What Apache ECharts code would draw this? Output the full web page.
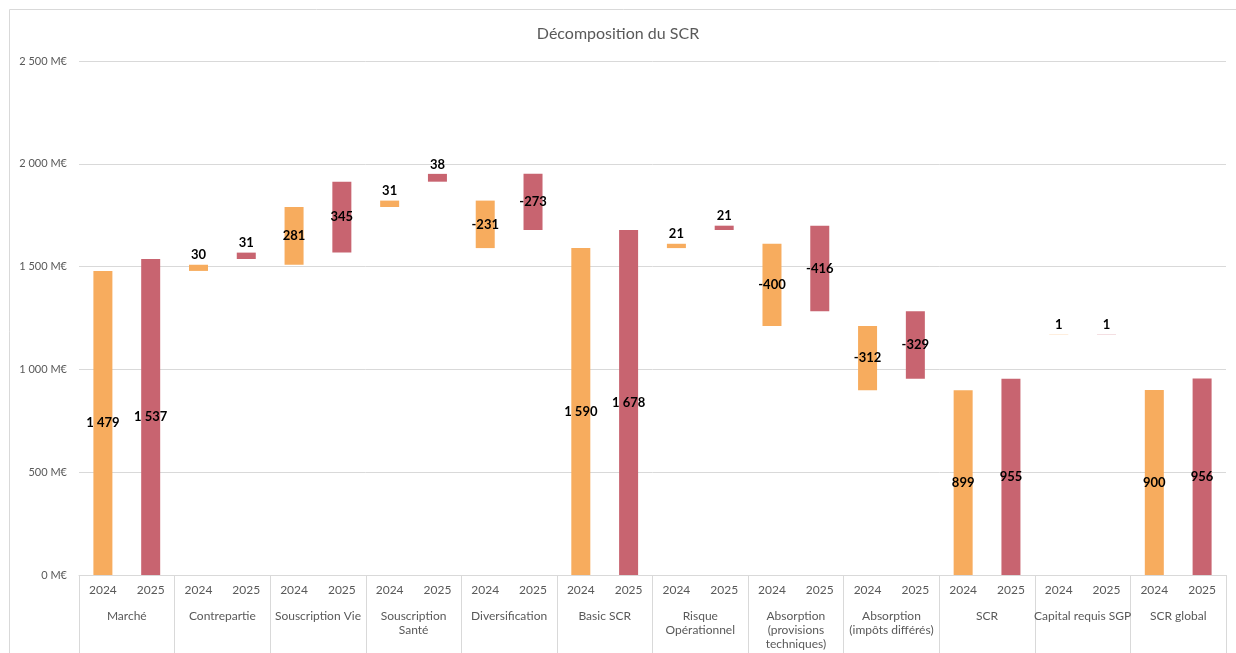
<!DOCTYPE html>
<html>
<head>
<meta charset="utf-8">
<title>Décomposition du SCR</title>
<script src="https://cdn.jsdelivr.net/npm/echarts@6/dist/echarts.min.js"></script>
<style>
  html, body { margin: 0; padding: 0; background: #fff; }
  #chart { width: 1236px; height: 653px; }
</style>
</head>
<body>
<div id="chart"></div>
<script>
// groupes de l'axe et années
const groups = ['Marché', 'Contrepartie', 'Souscription Vie', 'Souscription\nSanté', 'Diversification',
  'Basic SCR', 'Risque\nOpérationnel', 'Absorption\n(provisions\ntechniques)', 'Absorption\n(impôts différés)',
  'SCR', 'Capital requis SGP', 'SCR global'];
const years = ['2024', '2025'];

// montants en M€ (signés)
const values2024 = [1479, 30, 281, 31, -231, 1590, 21, -400, -312, 899, 1, 900];
const values2025 = [1537, 31, 345, 38, -273, 1678, 21, -416, -329, 955, 1, 956];

// niveau de départ de chaque barre (cascade)
const start2024 = [0, 1479, 1509, 1790, 1821, 0, 1590, 1611, 1211, 0, 1170, 0];
const start2025 = [0, 1537, 1568, 1913, 1951, 0, 1678, 1699, 1283, 0, 1170, 0];

const yTicks = [0, 500, 1000, 1500, 2000, 2500];

const colors = { '2024': '#F7AC5E', '2025': '#C86470' };

const fmt = v => String(v).replace(/\B(?=(\d{3})+(?!\d))/g, ' ');

const cats = [];
const baseData = [];
const barData = [];
groups.forEach((g, i) => {
  [[values2024, start2024], [values2025, start2025]].forEach(([vals, starts], k) => {
    const v = vals[i];
    const s = starts[i];
    const year = years[k];
    cats.push(year);
    baseData.push(Math.min(s, s + v));
    barData.push({
      value: Math.abs(v),
      signed: v,
      itemStyle: { color: colors[year] },
      label: { position: Math.abs(v) < 60 ? 'top' : 'inside' }
    });
  });
});

const chart = echarts.init(document.getElementById('chart'));
const font = 'Lato, "Open Sans", sans-serif';

chart.setOption({
  animation: false,
  textStyle: { fontFamily: font },
  title: {
    text: 'Décomposition du SCR',
    left: 'center',
    top: 21,
    textStyle: { fontSize: 16, fontWeight: 'normal', color: '#595959', fontFamily: font }
  },
  graphic: [{
    type: 'rect',
    shape: { x: 9.5, y: 9.5, width: 1240, height: 700 },
    style: { fill: 'none', stroke: '#d9d9d9', lineWidth: 1 },
    silent: true,
    z: -1
  }],
  grid: { left: 79, right: 10, top: 61, bottom: 78 },
  xAxis: [
    {
      type: 'category',
      data: cats,
      axisLine: { lineStyle: { color: '#d9d9d9' } },
      axisTick: { show: false },
      axisLabel: { interval: 0, margin: 9, fontSize: 12, color: '#595959', fontFamily: font }
    },
    {
      type: 'category',
      data: groups,
      position: 'bottom',
      axisLine: { show: false },
      axisTick: { show: true, interval: 0, length: 80, lineStyle: { color: '#d9d9d9' } },
      axisLabel: { interval: 0, margin: 34, fontSize: 12, lineHeight: 14, color: '#595959', fontFamily: font }
    }
  ],
  yAxis: {
    type: 'value',
    min: yTicks[0],
    max: yTicks[yTicks.length - 1],
    interval: yTicks[1] - yTicks[0],
    axisLine: { show: false },
    axisTick: { show: false },
    splitLine: { lineStyle: { color: '#d9d9d9' } },
    axisLabel: { margin: 12, fontSize: 11, color: '#595959', fontFamily: font, formatter: v => fmt(v) + ' M€' }
  },
  series: [
    {
      name: 'base',
      type: 'bar',
      stack: 'cascade',
      barWidth: 19,
      itemStyle: { color: 'transparent' },
      silent: true,
      data: baseData
    },
    {
      name: 'montant',
      type: 'bar',
      stack: 'cascade',
      barWidth: 19,
      label: {
        show: true,
        fontSize: 13,
        fontWeight: 'bold',
        color: '#000',
        fontFamily: font,
        distance: 3,
        formatter: p => fmt(p.data.signed)
      },
      data: barData
    }
  ]
});
</script>
</body>
</html>
